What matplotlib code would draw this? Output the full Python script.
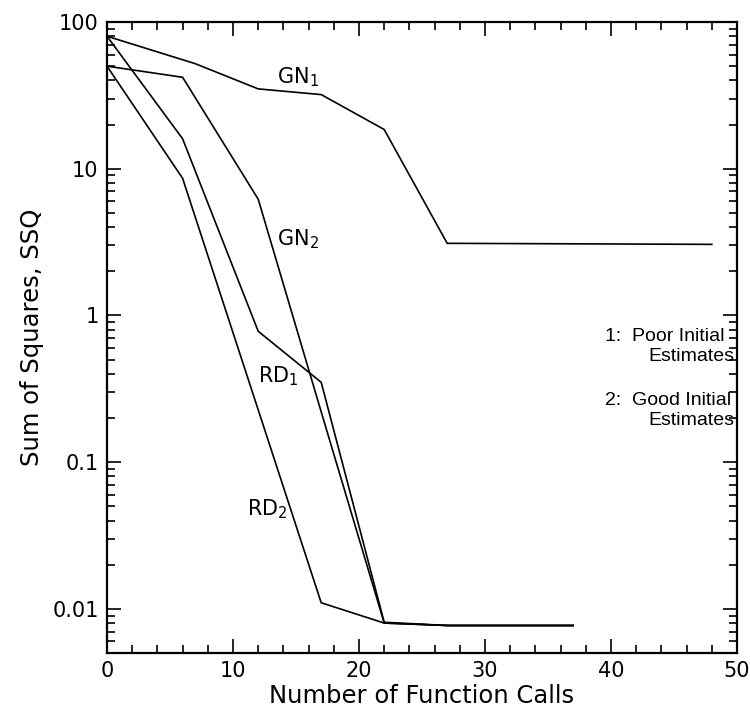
import matplotlib
matplotlib.use("Agg")
import matplotlib.pyplot as plt
from matplotlib.ticker import LogLocator, FixedLocator, MultipleLocator, FixedFormatter

plt.rcParams['font.family'] = ['DejaVu Sans']

# Convergence histories: sum of squares vs. number of function calls
gn1_calls = [0, 7, 12, 17, 22, 27, 48]
gn1_ssq = [80, 52, 35, 32, 18.5, 3.1, 3.05]

gn2_calls = [0, 6, 12, 17, 22, 27, 37]
gn2_ssq = [50, 42, 6.2, 0.22, 0.0080, 0.0077, 0.0077]

rd1_calls = [0, 6, 12, 17, 22, 27, 37]
rd1_ssq = [80, 16, 0.78, 0.35, 0.0081, 0.0077, 0.0077]

rd2_calls = [0, 6, 17, 22, 27, 37]
rd2_ssq = [50, 8.6, 0.011, 0.0080, 0.0077, 0.0077]

y_ticks = [100, 10, 1, 0.1, 0.01]
y_tick_labels = ["100", "10", "1", "0.1", "0.01"]

fig = plt.figure(figsize=(7.5, 7.07), dpi=100)
ax = fig.add_axes([107 / 750, 1 - 653 / 707, 630 / 750, 631 / 707])

lw = 1.2
for xs, ys in [(gn1_calls, gn1_ssq), (gn2_calls, gn2_ssq),
               (rd1_calls, rd1_ssq), (rd2_calls, rd2_ssq)]:
    ax.plot(xs, ys, color='black', lw=lw, solid_joinstyle='miter')

ax.set_yscale('log')
ax.set_xlim(0, 50)
ax.set_ylim(0.005, 100)

ax.xaxis.set_major_locator(MultipleLocator(10))
ax.xaxis.set_minor_locator(MultipleLocator(2))
ax.yaxis.set_major_locator(FixedLocator(y_ticks))
ax.yaxis.set_major_formatter(FixedFormatter(y_tick_labels))
ax.yaxis.set_minor_locator(LogLocator(base=10, subs=range(2, 10)))
ax.yaxis.set_minor_formatter(plt.NullFormatter())

ax.tick_params(which='both', direction='in', top=True, right=True,
               width=1.2, color='black')
ax.tick_params(which='major', length=10, labelsize=15, pad=6)
ax.tick_params(which='minor', length=6)
for s in ax.spines.values():
    s.set_linewidth(1.6)

ax.set_xlabel("Number of Function Calls", fontsize=17.5, labelpad=2)
ax.set_ylabel("Sum of Squares, SSQ", fontsize=17.5, labelpad=6)

fs = 15
ax.text(13.5, 42, "GN$_1$", fontsize=fs, va='center')
ax.text(13.5, 3.3, "GN$_2$", fontsize=fs, va='center')
ax.text(12.0, 0.385, "RD$_1$", fontsize=fs, va='center')
ax.text(11.1, 0.048, "RD$_2$", fontsize=fs, va='center')

# Legend text for the subscripts
leg_fs = 14
leg_font = ['Liberation Sans', 'DejaVu Sans']
ax.text(39.5, 0.72, "1:  Poor Initial", fontsize=leg_fs, va='center',
        family=leg_font)
ax.text(43.0, 0.526, "Estimates", fontsize=leg_fs, va='center',
        family=leg_font)
ax.text(39.5, 0.264, "2:  Good Initial", fontsize=leg_fs, va='center',
        family=leg_font)
ax.text(43.0, 0.193, "Estimates", fontsize=leg_fs, va='center',
        family=leg_font)

fig.savefig("out.png", dpi=100)
